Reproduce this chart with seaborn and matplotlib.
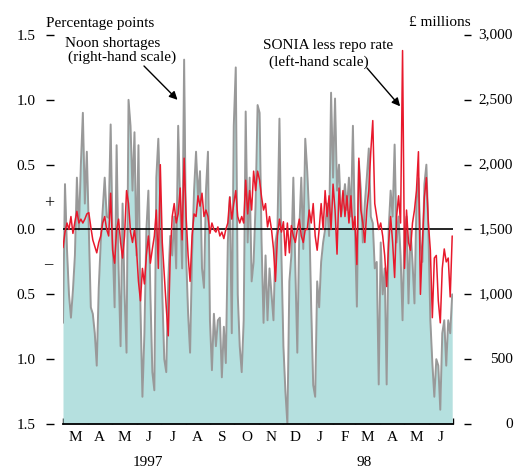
import pandas as pd
import matplotlib
matplotlib.use("Agg")
import matplotlib.pyplot as plt
import matplotlib.dates as mdates
import seaborn as sns

# ---- data -------------------------------------------------------------
start_date = "1997-03-01"
end_date = "1998-06-30"

# Noon money-market shortages, £ millions (right-hand scale)
noon_shortages = [
    780, 1850, 1350, 1000, 820, 1030, 1300, 1900, 1500, 2000, 2400, 1700, 2100, 1500, 900, 850, 700, 450, 1050, 1400, 1650, 1900, 1600,
    1590, 2310, 1400, 900, 2150, 1200, 600, 1700, 1000, 550, 2500, 2300, 1800, 2250, 1300, 2150, 900, 210, 700, 1500, 1800, 1000, 400, 260, 1900,
    2200, 1700, 1000, 500, 400, 1100, 1450, 1300, 1600, 1200, 2300, 1700, 1200, 2810, 1300, 850, 550, 1300, 1800, 2100, 1750, 1950, 1200, 1050, 1800,
    2100, 800, 415, 850, 600, 800, 820, 360, 750, 470, 1400, 1750, 700, 2300, 2750, 1000, 600, 400, 800, 2410, 1400, 1900, 1100, 1250, 1700,
    2460, 2400, 1400, 780, 1300, 800, 1200, 1000, 800, 1400, 1500, 2355, 1300, 600, 250, 0, 1100, 1300, 1900, 1200, 550, 1500, 1900, 1350, 2200,
    1950, 1600, 900, 300, 210, 1100, 900, 1250, 1400, 1500, 1700, 1450, 2555, 1900, 2510, 1800, 2000, 1600, 1700, 1850, 1650, 1900, 1600, 2300, 1500,
    905, 2025, 1800, 1400, 1700, 1900, 2125, 1600, 1550, 1200, 1250, 305, 1400, 1000, 1200, 305, 1500, 1800, 1600, 2155, 1400, 1600, 1300, 800, 1500,
    1600, 930, 1500, 1250, 930, 1700, 1895, 1400, 1250, 1850, 2000, 1500, 800, 470, 210, 500, 450, 110, 700, 800, 450, 800, 700, 1000,
]

# SONIA less repo rate, percentage points (left-hand scale)
sonia_less_repo = [
    -0.14, -0.02, 0.05, 0.0, 0.1, -0.03, 0.06, 0.14, 0.05, 0.08, 0.05, 0.08, 0.12, 0.13, 0.02, -0.08, -0.13, -0.18, -0.1, -0.05, 0.05, 0.1, 0.0,
    -0.05, 0.28, -0.16, -0.26, 0.0, 0.08, -0.1, -0.22, -0.05, 0.3, 0.2, -0.02, -0.1, 0.0, -0.15, -0.4, -0.55, -0.3, -0.42, -0.2, -0.05, -0.26, -0.15, -0.05, 0.15,
    -0.3, 0.5, -0.1, -0.35, -0.6, -0.82, -0.2, 0.1, 0.2, 0.05, 0.12, 0.32, -0.08, 0.55, 0.1, -0.2, -0.4, -0.05, 0.12, 0.1, 0.26, 0.18, 0.28, 0.1, 0.15,
    0.1, -0.03, 0.05, 0.0, -0.02, 0.02, -0.05, -0.02, -0.07, 0.0, 0.05, 0.25, 0.08, 0.2, 0.3, 0.1, 0.05, 0.1, 0.05, 0.38, 0.12, 0.3, 0.15, 0.45, 0.3,
    0.45, 0.38, 0.25, 0.15, 0.2, 0.02, 0.1, 0.0, -0.15, -0.4, -0.05, 0.08, -0.02, 0.06, -0.2, 0.05, -0.18, 0.03, -0.05, -0.1, 0.0, 0.08, -0.05, -0.1, 0.0,
    0.0, 0.15, 0.05, 0.2, -0.05, -0.16, 0.0, 0.2, 0.0, 0.3, 0.1, 0.26, 0.0, 0.35, 0.15, -0.19, 0.32, 0.1, 0.3, 0.1, 0.26, 0.05, 0.26, 0.0, 0.1,
    -0.27, 0.55, 0.15, 0.05, -0.1, 0.15, 0.3, 0.6, 0.84, 0.2, 0.1, 0.0, 0.05, -0.05, -0.2, -0.44, -0.1, 0.1, -0.1, -0.37, 0.1, 0.26, 0.05, 1.38, -0.3,
    0.15, -0.1, -0.16, 0.05, 0.15, 0.3, 0.6, -0.5, -0.1, 0.25, 0.4, 0.05, -0.16, -0.68, -0.22, -0.2, -0.55, -0.72, -0.3, -0.15, -0.25, -0.22, -0.52, -0.05,
]

month_letters = ["M", "A", "M", "J", "J", "A", "S", "O", "N", "D", "J", "F", "M", "A", "M", "J"]
left_ticks = [-1.5, -1.0, -0.5, 0.0, 0.5, 1.0, 1.5]
left_tick_labels = ["1.5", "1.0", "0.5", "0.0", "0.5", "1.0", "1.5"]
right_ticks = [0, 500, 1000, 1500, 2000, 2500, 3000]
right_tick_labels = ["0", "500", "1,000", "1,500", "2,000", "2,500", "3,000"]
year_labels = ["1997", "98"]
year_label_dates = ["1997-06-15", "1998-03-12"]

dates = pd.date_range(start_date, end_date, periods=len(noon_shortages))
df = pd.DataFrame({"date": dates, "shortage": noon_shortages, "sonia": sonia_less_repo})

# ---- style ------------------------------------------------------------
sns.set_theme(style="ticks")
plt.rcParams["font.family"] = ["Liberation Serif", "DejaVu Serif"]
plt.rcParams["font.size"] = 11
plt.rcParams["text.color"] = "black"
plt.rcParams["xtick.color"] = "black"
plt.rcParams["ytick.color"] = "black"
plt.rcParams["xtick.labelcolor"] = "black"
plt.rcParams["ytick.labelcolor"] = "black"

DPI = 100
W, H = 517, 472
PX = 72 / DPI  # points per pixel

fig = plt.figure(figsize=(W / DPI, H / DPI), dpi=DPI)
ax = fig.add_axes([63 / W, (H - 424) / H, 390 / W, 389 / H])
ax2 = ax.twinx()

# shortages: shaded area plus grey line (right-hand scale)
ax.fill_between(df["date"], 0, df["shortage"], color="#b5e0df", linewidth=0, zorder=1)
sns.lineplot(data=df, x="date", y="shortage", ax=ax, color="#999999", linewidth=1.4, zorder=2)

# SONIA spread: red line over a zero reference (left-hand scale)
ax2.axhline(0, color="black", linewidth=1.2, zorder=1)
sns.lineplot(data=df, x="date", y="sonia", ax=ax2, color="#e8192c", linewidth=1.1, zorder=2)

x0 = pd.Timestamp("1997-03-01")
x1 = pd.Timestamp("1998-07-01")
ax.set_xlim(x0, x1)
ax.set_ylim(0, 3000)
ax2.set_ylim(-1.5, 1.5)
for a in (ax, ax2):
    a.set_xlabel("")
    a.set_ylabel("")

# x axis: month boundaries as inward ticks, month initials centred in months
month_starts = pd.date_range(x0, x1, freq="MS")
month_mids = month_starts[:-1] + pd.Timedelta(days=15)
ax.set_xticks(month_starts)
ax.set_xticklabels([""] * len(month_starts))
ax.set_xticks(month_mids, minor=True)
ax.set_xticklabels(month_letters, minor=True)
ax.tick_params(axis="x", which="major", direction="in", length=6 * PX, width=1.0)
ax.tick_params(axis="x", which="minor", length=0, pad=5, labelsize=11)
for tick, d in zip(ax.xaxis.get_major_ticks(), month_starts):
    if d.month == 1:
        tick.tick1line.set_markersize(14 * PX)

for lab, d in zip(year_labels, year_label_dates):
    ax.text(mdates.date2num(pd.Timestamp(d)), -0.098, lab, transform=ax.get_xaxis_transform(),
            ha="center", va="center", fontsize=11)

# right axis (shortages): tick marks outside, labels right-aligned at the edge
ax.yaxis.tick_right()
ax.spines["right"].set_position(("outward", 11 * PX))
ax.set_yticks(right_ticks)
ax.set_yticklabels([""] * len(right_ticks))
ax.tick_params(axis="y", direction="out", length=7 * PX, width=1.0)
for v, lab in zip(right_ticks, right_tick_labels):
    ax.text(1.1538, v, lab, transform=ax.get_yaxis_transform(), ha="right", va="center",
            fontsize=11, clip_on=False)

# left axis (SONIA)
ax2.yaxis.tick_left()
ax2.spines["left"].set_position(("outward", 9 * PX))
ax2.set_yticks(left_ticks)
ax2.set_yticklabels(left_tick_labels)
ax2.tick_params(axis="y", direction="out", length=8.5 * PX, width=1.0, pad=10 * PX, labelsize=11)
ax2.text(-0.0367, 0.2, "+", transform=ax2.get_yaxis_transform(), ha="center", va="center", fontsize=13)
ax2.text(-0.0367, -0.27, "–", transform=ax2.get_yaxis_transform(), ha="center", va="center", fontsize=12)

for s in ("top", "left", "right"):
    ax.spines[s].set_visible(False)
ax.spines["bottom"].set_color("black")
ax.spines["bottom"].set_linewidth(1.3)
for s in ("top", "bottom", "left", "right"):
    ax2.spines[s].set_visible(False)

# titles and annotations
fig.text(46 / W, 1 - 24 / H, "Percentage points", ha="left", va="center", fontsize=11)
fig.text(113 / W, 1 - 43 / H, "Noon shortages", ha="center", va="center", fontsize=11)
fig.text(122 / W, 1 - 57 / H, "(right-hand scale)", ha="center", va="center", fontsize=11)
fig.text(440 / W, 1 - 22 / H, "£ millions", ha="center", va="center", fontsize=11)
fig.text(328 / W, 1 - 45 / H, "SONIA less repo rate", ha="center", va="center", fontsize=11)
fig.text(319 / W, 1 - 62 / H, "(left-hand scale)", ha="center", va="center", fontsize=11)

arrow = dict(arrowstyle="-|>", color="black", lw=1.0, mutation_scale=12, shrinkA=0, shrinkB=0)
ax.annotate("", xy=(mdates.date2num(pd.Timestamp("1997-07-22")), 2500), xycoords="data",
            xytext=(144 / W, 1 - 66 / H), textcoords="figure fraction", arrowprops=arrow)
ax2.annotate("", xy=(mdates.date2num(pd.Timestamp("1998-04-26")), 0.95), xycoords="data",
             xytext=(367 / W, 1 - 68 / H), textcoords="figure fraction", arrowprops=arrow)

fig.savefig("out.png", dpi=DPI)
